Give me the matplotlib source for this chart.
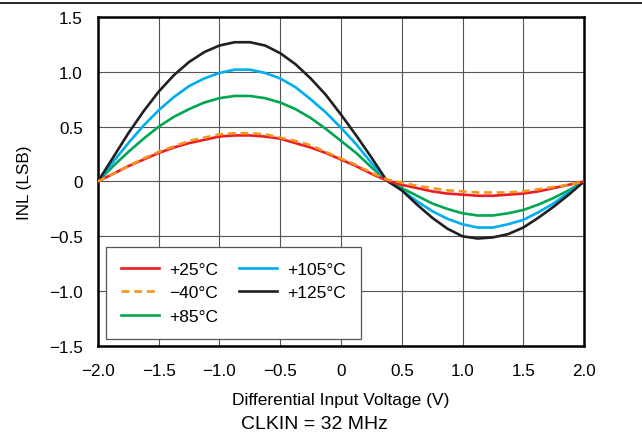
#!/usr/bin/env python3
"""INL vs differential input voltage at several temperatures."""

import matplotlib
matplotlib.use("Agg")
import matplotlib.pyplot as plt
from matplotlib.lines import Line2D

plt.rcParams['font.family'] = ['Liberation Sans', 'DejaVu Sans']

# Values (step 0.125 V)
voltage = [-2.0, -1.875, -1.75, -1.625, -1.5, -1.375, -1.25, -1.125, -1.0,
           -0.875, -0.75, -0.625, -0.5, -0.375, -0.25, -0.125, 0.0, 0.125,
           0.25, 0.375, 0.5, 0.625, 0.75, 0.875, 1.0, 1.125, 1.25, 1.375,
           1.5, 1.625, 1.75, 1.875, 2.0]

inl_25 = [0, 0.07, 0.14, 0.20, 0.26, 0.31, 0.35, 0.38, 0.41, 0.42, 0.42, 0.41,
          0.39, 0.35, 0.31, 0.26, 0.20, 0.14, 0.07, 0.01,
          -0.03, -0.06, -0.09, -0.11, -0.12, -0.13, -0.13, -0.12, -0.11,
          -0.09, -0.06, -0.03, 0]
inl_m40 = [0, 0.07, 0.14, 0.21, 0.27, 0.32, 0.37, 0.40, 0.43, 0.44, 0.44, 0.43,
           0.40, 0.37, 0.33, 0.27, 0.21, 0.15, 0.08, 0.02,
           -0.01, -0.04, -0.06, -0.08, -0.09, -0.10, -0.10, -0.10, -0.09,
           -0.07, -0.05, -0.03, 0]
inl_85 = [0, 0.14, 0.27, 0.39, 0.50, 0.59, 0.66, 0.72, 0.76, 0.78, 0.78, 0.76,
          0.72, 0.66, 0.58, 0.48, 0.37, 0.26, 0.13, 0.01,
          -0.06, -0.13, -0.20, -0.25, -0.29, -0.31, -0.31, -0.29, -0.26,
          -0.21, -0.15, -0.08, 0]
inl_105 = [0, 0.18, 0.35, 0.51, 0.65, 0.77, 0.87, 0.94, 0.99, 1.02, 1.02, 0.99,
           0.94, 0.86, 0.75, 0.63, 0.49, 0.34, 0.17, 0.01,
           -0.08, -0.18, -0.27, -0.34, -0.39, -0.42, -0.42, -0.39, -0.35,
           -0.28, -0.20, -0.10, 0]
inl_125 = [0, 0.22, 0.44, 0.64, 0.82, 0.97, 1.09, 1.18, 1.24, 1.27, 1.27, 1.24,
           1.17, 1.07, 0.94, 0.79, 0.61, 0.42, 0.22, 0.01,
           -0.08, -0.21, -0.33, -0.43, -0.50, -0.52, -0.51, -0.48, -0.42,
           -0.33, -0.23, -0.12, 0]

x_ticks = [-2.0, -1.5, -1.0, -0.5, 0, 0.5, 1.0, 1.5, 2.0]
x_labels = ['\u22122.0', '\u22121.5', '\u22121.0', '\u22120.5', '0', '0.5', '1.0', '1.5', '2.0']
y_ticks = [-1.5, -1.0, -0.5, 0, 0.5, 1.0, 1.5]
y_labels = ['\u22121.5', '\u22121.0', '\u22120.5', '0', '0.5', '1.0', '1.5']

fig = plt.figure(figsize=(6.42, 4.39), dpi=100)
ax = fig.add_axes([0.1526, 0.2096, 0.7571, 0.7494])

ax.plot(voltage, inl_25, color='#ED1C24', lw=1.9, label='+25\u00b0C', zorder=4)
ax.plot(voltage, inl_m40, color='#F7941D', lw=1.9, ls=(0, (3, 1.8)), label='\u221240\u00b0C', zorder=5)
ax.plot(voltage, inl_85, color='#00A651', lw=1.9, label='+85\u00b0C', zorder=3)
ax.plot(voltage, inl_105, color='#00AEEF', lw=1.9, label='+105\u00b0C', zorder=3)
ax.plot(voltage, inl_125, color='#231F20', lw=1.9, label='+125\u00b0C', zorder=3)

ax.set_xlim(-2, 2)
ax.set_ylim(-1.5, 1.5)
ax.set_xticks(x_ticks)
ax.set_xticklabels(x_labels)
ax.set_yticks(y_ticks)
ax.set_yticklabels(y_labels)
ax.tick_params(length=0, labelsize=12.3)
ax.tick_params(axis='x', pad=12)
ax.tick_params(axis='y', pad=11)
ax.grid(True, color='#555555', lw=0.8)
ax.set_axisbelow(True)
for s in ax.spines.values():
    s.set_linewidth(1.8)
    s.set_color('black')

ax.set_xlabel('Differential Input Voltage (V)', fontsize=12.5, labelpad=10)
ax.set_ylabel('INL (LSB)', fontsize=12.3, labelpad=12)

leg = ax.legend(ncol=2, loc='lower left', bbox_to_anchor=(0.016, 0.021),
                borderaxespad=0, fontsize=12.5, fancybox=False, framealpha=1,
                edgecolor='#555555', handlelength=2.2, handletextpad=0.6,
                columnspacing=1.2, borderpad=0.85, labelspacing=0.5)
leg.get_frame().set_linewidth(0.9)

fig.text(0.489, 0.032, 'CLKIN = 32 MHz', ha='center', va='center', fontsize=14)
fig.add_artist(Line2D([0, 1], [0.991, 0.991], color='black', lw=1.2))

plt.savefig('out.png', dpi=100)
